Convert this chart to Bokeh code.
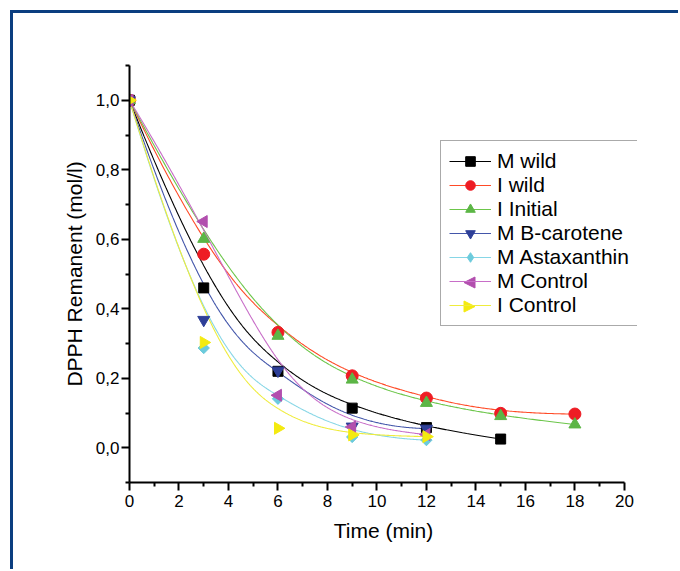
import numpy as np
from bokeh.plotting import figure
from bokeh.models import Range1d, FixedTicker, Legend, LegendItem, Arrow, NormalHead
from bokeh.embed import file_html
from bokeh.resources import INLINE

# ---- data ----
time = [0, 3, 6, 9, 12, 15, 18]
series_names = ["M wild", "I wild", "I Initial", "M B-carotene",
                "M Astaxanthin", "M Control", "I Control"]
m_wild = [1.0, 0.460, 0.220, 0.114, 0.058, 0.025]
i_wild = [1.0, 0.557, 0.332, 0.207, 0.143, 0.099, 0.097]
i_initial = [1.0, 0.601, 0.322, 0.196, 0.129, 0.091, 0.067]
m_bcarotene = [1.0, 0.368, 0.222, 0.061, 0.055]
m_astaxanthin = [1.0, 0.287, 0.141, 0.031, 0.022]
m_control = [1.0, 0.651, 0.151, 0.060, 0.038]
i_control = [1.0, 0.303, 0.056, 0.037, 0.032]
series_values = [m_wild, i_wild, i_initial, m_bcarotene,
                 m_astaxanthin, m_control, i_control]

x_ticks = [0, 2, 4, 6, 8, 10, 12, 14, 16, 18, 20]
x_minor = [1, 3, 5, 7, 9, 11, 13, 15, 17, 19]
y_ticks = [0.0, 0.2, 0.4, 0.6, 0.8, 1.0]
y_tick_labels = ["0,0", "0,2", "0,4", "0,6", "0,8", "1,0"]
y_minor = [-0.1, 0.1, 0.3, 0.5, 0.7, 0.9, 1.1]

# ---- styles ----
line_colors = ["#000000", "#ff4a26", "#6cc64a", "#4356aa", "#86d6e6", "#c86ec8", "#efec3c"]
marker_colors = ["#000000", "#ee1c24", "#5cb646", "#2e3f98", "#6ccbdc", "#b24fae", "#f4ea10"]
markers = ["square", "circle", "triangle", "inverted_triangle", "square", "triangle", "triangle"]
angles = [0, 0, 0, 0, np.pi / 4, np.pi / 2, -np.pi / 2]
sizes = [10, 12, 12, 12, 8, 12, 12]

FONT = "Liberation Sans"
X_AXIS_END = 20       # axis drawn from 0 to 20
X_VIEW_END = 20.53    # frame extends a little past the axis so the legend box can stick out


def bspline_curve(px, py, degree=3, num=400):
    """Clamped B-spline using the data points as control points (Origin 'B-Spline' line)."""
    px = np.asarray(px, float)
    py = np.asarray(py, float)
    n = len(px)
    k = min(degree, n - 1)
    inner = n - k - 1
    knots = np.array([0] * (k + 1) + list(range(1, inner + 1)) + [inner + 1] * (k + 1), float)
    umax = float(inner + 1)
    u = np.linspace(0, umax, num)
    m = len(knots) - 1
    N = np.zeros((num, m))
    for i in range(m):
        N[:, i] = ((knots[i] <= u) & (u < knots[i + 1])).astype(float)
    N[u >= umax, n - 1] = 1.0
    for d in range(1, k + 1):
        Nn = np.zeros((num, m - d))
        for i in range(m - d):
            val = np.zeros(num)
            den1 = knots[i + d] - knots[i]
            if den1 > 0:
                val += (u - knots[i]) / den1 * N[:, i]
            den2 = knots[i + d + 1] - knots[i + 1]
            if den2 > 0:
                val += (knots[i + d + 1] - u) / den2 * N[:, i + 1]
            Nn[:, i] = val
        N = Nn
    return N @ px, N @ py


p = figure(width=678, height=569, output_backend="svg", toolbar_location=None,
           x_range=Range1d(0, X_VIEW_END), y_range=Range1d(-0.1, 1.1),
           min_border_left=129, min_border_right=41,
           min_border_top=65, min_border_bottom=87,
           styles={"box-shadow": "inset 10px 10px 0 0 #ffffff, inset 13px 13px 0 0 #0b3e80"})
p.border_fill_color = None
p.background_fill_color = None
p.outline_line_color = None
p.xgrid.visible = False
p.ygrid.visible = False

for ax in (p.xaxis[0], p.yaxis[0]):
    ax.axis_line_width = 2
    ax.major_tick_line_width = 2
    ax.minor_tick_line_width = 2
    ax.major_tick_in = 0
    ax.major_tick_out = 8
    ax.minor_tick_in = 0
    ax.minor_tick_out = 4
    ax.major_label_text_font = FONT
    ax.major_label_text_font_size = "17px"
    ax.major_label_text_color = "#000000"
    ax.axis_label_text_font = FONT
    ax.axis_label_text_font_size = "21px"
    ax.axis_label_text_font_style = "normal"
    ax.axis_label_text_color = "#000000"

p.xaxis.bounds = (0, X_AXIS_END)
p.xaxis.ticker = FixedTicker(ticks=x_ticks, minor_ticks=x_minor)
p.yaxis.ticker = FixedTicker(ticks=y_ticks, minor_ticks=y_minor)
p.yaxis.major_label_overrides = {v: s for v, s in zip(y_ticks, y_tick_labels)}
p.xaxis.major_label_standoff = 4
p.yaxis.major_label_standoff = 2
p.xaxis.axis_label = "Time (min)"
p.yaxis.axis_label = "DPPH Remanent (mol/l)"
p.xaxis.axis_label_standoff = 9
p.yaxis.axis_label_standoff = 7

line_renderers = []
for vals, lc in zip(series_values, line_colors):
    xs = time[:len(vals)]
    cx, cy = bspline_curve(xs, vals)
    line_renderers.append(p.line(cx, cy, line_color=lc, line_width=1.1))

legend_marker_renderers = []
for idx, (vals, mk, mc, ang, sz) in enumerate(zip(series_values, markers, marker_colors, angles, sizes)):
    xs = time[:len(vals)]
    if idx == 4:
        # diamond underlay: gives the legend a diamond glyph, hidden below the rotated square
        under = p.scatter(xs, vals, marker="diamond", size=10, fill_color=mc, line_color=mc)
    r = p.scatter(xs, vals, marker=mk, size=sz, angle=ang,
                  fill_color=mc, line_color=mc, line_width=1)
    legend_marker_renderers.append(under if idx == 4 else r)

# legend geometry (screen pixels, relative to the frame's lower-left corner)
LEG_X, LEG_Y, LEG_PAD, ROW_H, GLYPH_W = 311, 156, 8, 24, 42
n_items = len(series_names)
items = []
for i, (n, lr, sr) in enumerate(zip(series_names, line_renderers, legend_marker_renderers)):
    rend = [lr] if i in (5, 6) else [lr, sr]
    items.append(LegendItem(label=n, renderers=rend))
legend = Legend(items=items, location=(LEG_X, LEG_Y), margin=0, padding=LEG_PAD,
                spacing=0, glyph_width=GLYPH_W, glyph_height=ROW_H, label_height=ROW_H,
                label_width=132, label_standoff=6, label_text_font=FONT,
                label_text_font_size="21px", label_text_color="#000000",
                border_line_color="#555555", border_line_width=1,
                background_fill_color="#ffffff", background_fill_alpha=0.0)
p.add_layout(legend, "center")

# left / right pointing triangles for the two "Control" legend entries
box_top = LEG_Y + 2 * LEG_PAD + n_items * ROW_H
gx = LEG_X + LEG_PAD + GLYPH_W / 2
head = 11
for i, direction in ((5, -1), (6, 1)):
    gy = box_top - LEG_PAD - ROW_H * (i + 0.5)
    tip = gx + direction * head / 2
    start = gx - direction * (head / 2 + 2)
    arr = Arrow(x_start=start, y_start=gy, x_end=tip, y_end=gy,
                start_units="screen", end_units="screen", line_alpha=0, level="overlay",
                end=NormalHead(size=head, fill_color=marker_colors[i],
                               line_color=marker_colors[i], line_width=1))
    p.add_layout(arr)

open("out.html", "w").write(file_html(p, INLINE))
